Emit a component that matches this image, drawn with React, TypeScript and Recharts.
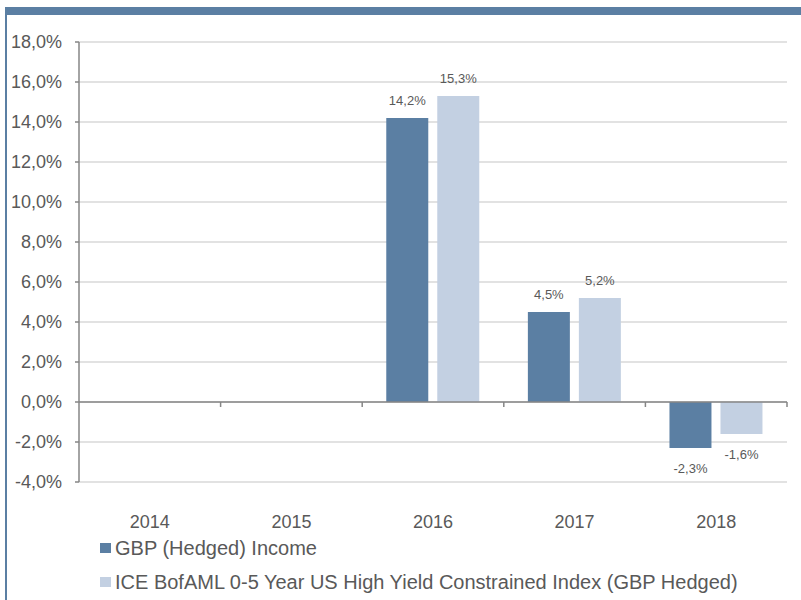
import React from 'react';
import { BarChart, Bar, XAxis, YAxis, CartesianGrid, ReferenceLine, LabelList } from 'recharts';

const years = ['2014', '2015', '2016', '2017', '2018'];
const fundIncome = [null, null, 14.2, 4.5, -2.3];
const indexHedged = [null, null, 15.3, 5.2, -1.6];
const yTicks = [-4, -2, 0, 2, 4, 6, 8, 10, 12, 14, 16, 18];
const seriesNames = ['GBP (Hedged) Income', 'ICE BofAML 0-5 Year US High Yield Constrained Index (GBP Hedged)'];

const data = years.map((year, i) => ({ year, fund: fundIncome[i], index: indexHedged[i] }));

const DARK = '#5b7fa3';
const LIGHT = '#c3d0e2';
const TEXT = '#595959';
const AXIS = '#868686';
const FONT = '"Liberation Sans", Arial, sans-serif';

const fmt = (v: number) => v.toFixed(1).replace('.', ',') + '%';

const ValueLabel = (props: any) => {
  const { x, y, width, height, value } = props;
  if (value == null) return null;
  const top = Math.min(y, y + height);
  const bottom = Math.max(y, y + height);
  const cy = value >= 0 ? top - 18 : bottom + 20;
  return (
    <text x={x + width / 2} y={cy} dy="0.35em" textAnchor="middle" fontSize={13} fill={TEXT} fontFamily={FONT}>
      {fmt(value)}
    </text>
  );
};

const App = () => {
  return (
    <div style={{ position: 'absolute', left: 0, top: 0, width: 801, height: 600, background: '#fff', fontFamily: FONT }}>
      <div style={{ position: 'absolute', left: 5, top: 7, width: 796, height: 8, background: DARK }} />
      <div style={{ position: 'absolute', left: 5, top: 7, width: 2, height: 593, background: DARK }} />
      <BarChart
        width={801}
        height={600}
        data={data}
        margin={{ top: 42, right: 14, left: 9, bottom: 68 }}
        barCategoryGap="17%"
        barGap={9}
      >
        <CartesianGrid vertical={false} stroke="#d9d9d9" strokeWidth={1.5} />
        <XAxis
          dataKey="year"
          axisLine={false}
          tickLine={false}
          tickSize={0}
          tickMargin={33}
          height={50}
          tick={{ fill: TEXT, fontSize: 18, fontFamily: FONT }}
        />
        <YAxis
          width={70}
          domain={[-4, 18]}
          ticks={yTicks}
          interval={0}
          tickFormatter={fmt}
          axisLine={{ stroke: AXIS, strokeWidth: 1.5 }}
          tickLine={{ stroke: AXIS, strokeWidth: 1.5 }}
          tickSize={4}
          tickMargin={13}
          tick={{ fill: TEXT, fontSize: 18, fontFamily: FONT }}
        />
        <Bar dataKey="fund" fill={DARK} isAnimationActive={false}>
          <LabelList dataKey="fund" content={ValueLabel} />
        </Bar>
        <Bar dataKey="index" fill={LIGHT} isAnimationActive={false}>
          <LabelList dataKey="index" content={ValueLabel} />
        </Bar>
        <ReferenceLine y={0} stroke={AXIS} strokeWidth={1.5} />
        {years.slice(1).map((yr) => (
          <ReferenceLine
            key={yr}
            segment={[{ x: yr, y: 0 }, { x: yr, y: -0.25 }]}
            position="start"
            stroke={AXIS}
            strokeWidth={1.5}
          />
        ))}
        <ReferenceLine
          segment={[{ x: '2018', y: 0 }, { x: '2018', y: -0.25 }]}
          position="end"
          stroke={AXIS}
          strokeWidth={1.5}
        />
      </BarChart>
      {seriesNames.map((name, i) => (
        <div
          key={name}
          style={{
            position: 'absolute',
            left: 100,
            top: i === 0 ? 537 : 571,
            height: 22,
            display: 'flex',
            alignItems: 'center',
            color: TEXT,
            fontSize: 20,
            whiteSpace: 'nowrap',
          }}
        >
          <span style={{ display: 'inline-block', width: 11, height: 10, background: i === 0 ? DARK : LIGHT, marginRight: 4 }} />
          {name}
        </div>
      ))}
    </div>
  );
};

export default App;
